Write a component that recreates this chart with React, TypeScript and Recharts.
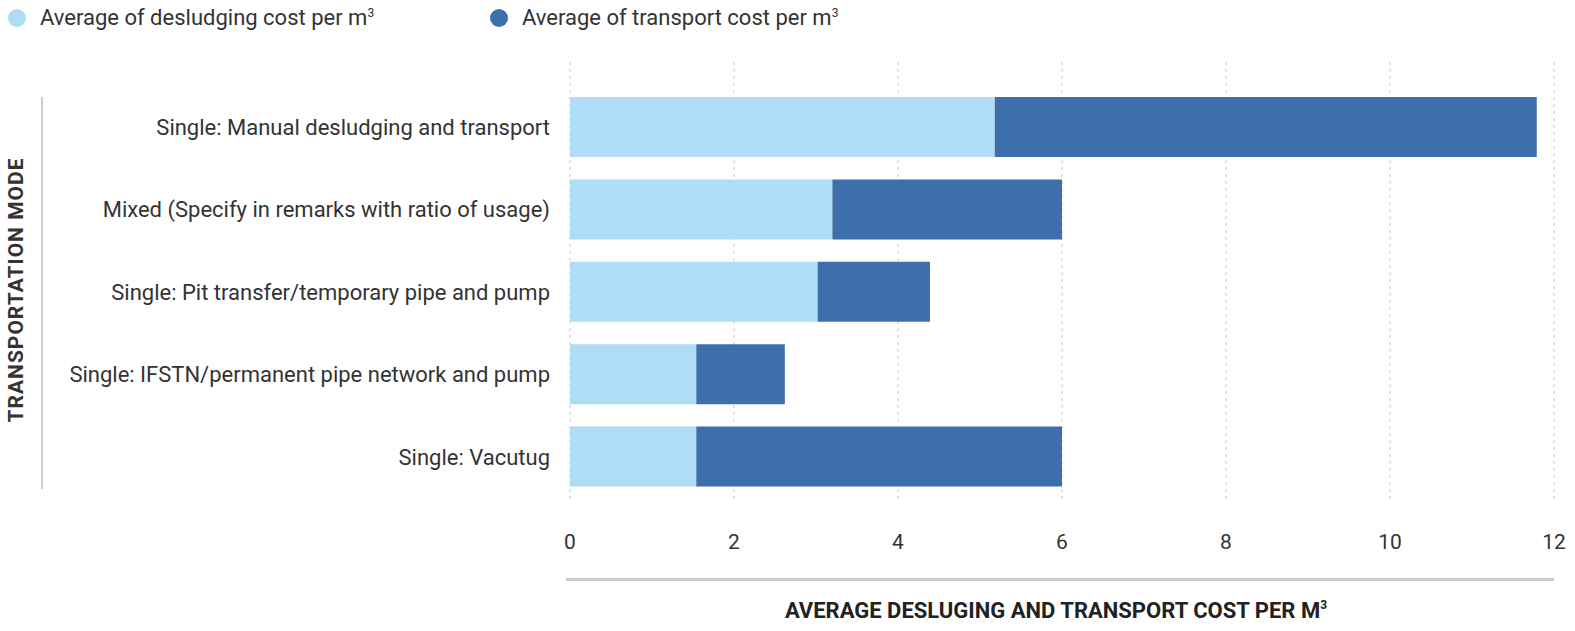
import React from 'react'
import { BarChart, Bar, XAxis, YAxis, CartesianGrid } from 'recharts'

const categories = [
  'Single: Manual desludging and transport',
  'Mixed (Specify in remarks with ratio of usage)',
  'Single: Pit transfer/temporary pipe and pump',
  'Single: IFSTN/permanent pipe network and pump',
  'Single: Vacutug',
]
const desludgingCost = [5.18, 3.2, 3.02, 1.54, 1.54]
const transportCost = [6.61, 2.8, 1.37, 1.08, 4.46]
const xTicks = [0, 2, 4, 6, 8, 10, 12]

const LIGHT = '#b0ddf6'
const DARK = '#3e6fad'
const font = 'Roboto, "Noto Sans", sans-serif'

const data = categories.map((name, i) => ({
  name,
  desludging: desludgingCost[i],
  transport: transportCost[i],
}))

function LegendItem({ color, label, left }: { color: string; label: string; left: number }) {
  return (
    <div style={{ position: 'absolute', left, top: 5, display: 'flex', alignItems: 'center' }}>
      <span style={{ width: 18, height: 18, borderRadius: '50%', background: color, display: 'inline-block' }} />
      <span style={{ marginLeft: 14, fontSize: 22, color: '#333', fontFamily: font }}>
        {label}
        <sup style={{ fontSize: 12 }}>3</sup>
      </span>
    </div>
  )
}

export default function App() {
  return (
    <div style={{ position: 'absolute', top: 0, left: 0, width: 1575, height: 631, background: '#fff', fontFamily: font }}>
      <LegendItem color={LIGHT} label="Average of desludging cost per m" left={8} />
      <LegendItem color={DARK} label="Average of transport cost per m" left={490} />
      <div style={{ position: 'absolute', left: 41, top: 97, width: 2, height: 392, background: '#ccc' }} />
      <div
        style={{
          position: 'absolute',
          left: 16,
          top: 290,
          transform: 'translate(-50%, -50%) rotate(-90deg)',
          whiteSpace: 'nowrap',
          fontSize: 21,
          fontWeight: 700,
          letterSpacing: 1,
          color: '#333',
        }}
      >
        TRANSPORTATION MODE
      </div>
      <div style={{ position: 'absolute', left: 566, top: 578, width: 988, height: 3, background: '#ccc' }} />
      <div
        style={{
          position: 'absolute',
          left: 1056,
          top: 610,
          transform: 'translate(-50%, -50%)',
          whiteSpace: 'nowrap',
          fontSize: 22,
          fontWeight: 700,
          color: '#222',
        }}
      >
        AVERAGE DESLUGING AND TRANSPORT COST PER M<sup style={{ fontSize: 12 }}>3</sup>
      </div>
      <div style={{ position: 'absolute', top: 0, left: 0 }}>
        <BarChart
          width={1575}
          height={631}
          data={data}
          layout="vertical"
          margin={{ top: 62, right: 21, bottom: 68, left: 0 }}
        >
          <CartesianGrid horizontal={false} strokeDasharray="3 4" stroke="#c8c8c8" />
          <XAxis
            type="number"
            domain={[0, 12]}
            ticks={xTicks}
            axisLine={false}
            tickLine={false}
            tickMargin={25}
            height={60}
            tick={{ fontSize: 21, fill: '#333', fontFamily: font }}
            interval={0}
          />
          <YAxis
            type="category"
            dataKey="name"
            width={570}
            axisLine={false}
            tickLine={false}
            tickMargin={14}
            padding={{ top: 24, bottom: 5 }}
            tick={{ fontSize: 22, fill: '#333', fontFamily: font }}
            interval={0}
          />
          <Bar dataKey="desludging" stackId="a" fill={LIGHT} barSize={60} isAnimationActive={false} />
          <Bar dataKey="transport" stackId="a" fill={DARK} barSize={60} isAnimationActive={false} />
        </BarChart>
      </div>
    </div>
  )
}
